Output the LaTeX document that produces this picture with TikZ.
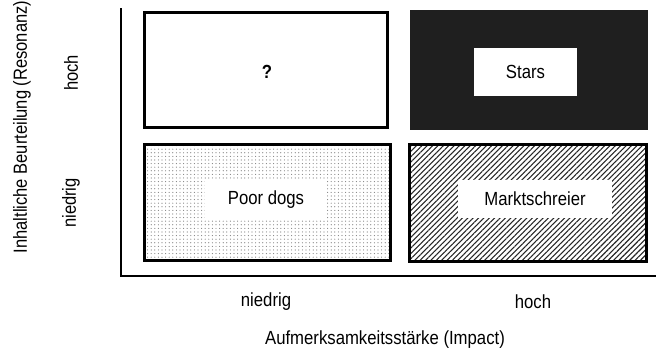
\documentclass[tikz,border=0pt]{standalone}
\usepackage{fontspec}
\setmainfont{Liberation Sans}
\usetikzlibrary{patterns,patterns.meta}
\pgfdeclarepatternformonly{smalldots}{\pgfqpoint{-1pt}{-1pt}}{\pgfqpoint{1pt}{1pt}}{\pgfqpoint{3.6pt}{3.6pt}}{\pgfpathcircle{\pgfpointorigin}{0.6pt}\pgfusepath{fill}}
\begin{document}
\begin{tikzpicture}[x=1pt,y=1pt,
  every node/.style={inner sep=0pt},
  txt/.style={font=\fontsize{19}{22}\selectfont, xscale=0.88},
  vtxt/.style={font=\fontsize{19}{22}\selectfont, rotate=90, xscale=0.87},
  quad/.style={draw=black, line width=3pt, rectangle},
  label box/.style={fill=white, rectangle},
  axisline/.style={line width=2pt, line cap=rect}]
\useasboundingbox (0,0) rectangle (657,358);
% quadrants
\node[quad, fill=black!0, minimum width=243pt, minimum height=115pt] (tl) at (266,288) {};
\node[quad, fill=black!88, draw=black!88, minimum width=235pt, minimum height=117pt] (tr) at (529,288) {};
\node[quad, pattern=smalldots, pattern color=black!50, minimum width=246pt, minimum height=116pt] (bl) at (267.5,155.5) {};
\node[quad, pattern={Lines[angle=45,distance=3.8pt,line width=1.1pt]}, pattern color=black!85, minimum width=237pt, minimum height=117pt] (br) at (528,155) {};
% inner labels
\node[txt, font=\fontsize{19}{22}\selectfont\bfseries] (q) at (267,286) {?};
\node[label box, minimum width=103pt, minimum height=48pt] (starsbox) at (525.5,286) {};
\node[txt] (stars) at (starsbox.center) {Stars};
\node[label box, minimum width=122pt, minimum height=40pt] (dogsbox) at (266,158) {};
\node[txt] (dogs) at (dogsbox.center) {Poor dogs};
\node[label box, minimum width=154pt, minimum height=38pt] (marktbox) at (535,159) {};
\node[txt] (markt) at (marktbox.center) {Marktschreier};
% axes
\coordinate (corner) at (121,82);
\coordinate (ytop) at (121,349);
\coordinate (xend) at (655,82);
\draw[axisline] (ytop) -- (corner) -- (xend);
% axis labels
\node[vtxt] (ylab) at (22,231) {Inhaltliche Beurteilung (Resonanz)};
\node[vtxt] (yhoch) at (71,285) {hoch};
\node[vtxt] (yniedrig) at (71,155) {niedrig};
\node[txt] (xniedrig) at (266,56) {niedrig};
\node[txt] (xhoch) at (533,56) {hoch};
\node[txt] (xlab) at (385,18) {Aufmerksamkeitsstärke (Impact)};
\end{tikzpicture}
\end{document}
